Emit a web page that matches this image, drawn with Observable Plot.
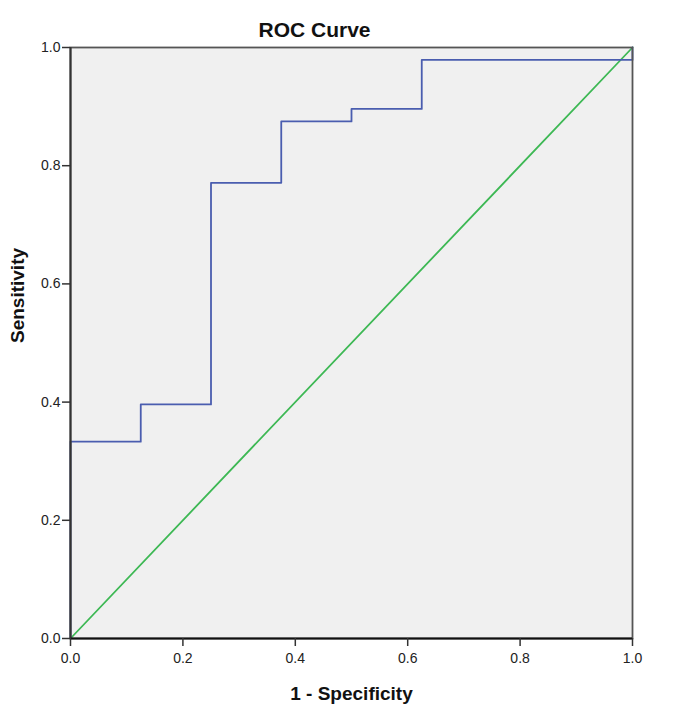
<!DOCTYPE html>
<html>
<head>
<meta charset="utf-8">
<script src="https://cdn.jsdelivr.net/npm/d3@7"></script>
<script src="https://cdn.jsdelivr.net/npm/@observablehq/plot@0.6"></script>
<style>
  body { margin: 0; background: #fff; }
  svg { font-family: "Liberation Sans", Arial, sans-serif; }
  g[aria-label="x-axis tick label"], g[aria-label="y-axis tick label"],
  g[aria-label="x-axis tick label"] text, g[aria-label="y-axis tick label"] text {
    font-size: 14px !important;
  }
</style>
</head>
<body>
<div id="chart"></div>
<script>
// ROC curve points (1 - specificity, sensitivity)
const fpr = [0, 0, 0.125, 0.25, 0.375, 0.5, 0.625, 1];
const tpr = [0, 0.333, 0.396, 0.771, 0.875, 0.896, 0.979, 1];
// Reference (chance) line
const refX = [0, 1];
const refY = [0, 1];
const ticks = [0, 0.2, 0.4, 0.6, 0.8, 1.0];
const titleText = "ROC Curve";
const xLabel = "1 - Specificity";
const yLabel = "Sensitivity";

const roc = fpr.map((x, i) => ({x, y: tpr[i]}));
const ref = refX.map((x, i) => ({x, y: refY[i]}));
const fmt = d3.format(".1f");

const chart = Plot.plot({
  width: 681,
  height: 723,
  marginLeft: 70,
  marginRight: 49,
  marginTop: 47,
  marginBottom: 85,
  style: {fontFamily: "Liberation Sans, Arial, sans-serif", fontSize: "14px", background: "#fff"},
  x: {domain: [0, 1]},
  y: {domain: [0, 1]},
  marks: [
    Plot.frame({fill: "#f0f0f0", stroke: null}),
    Plot.line(ref, {x: "x", y: "y", stroke: "#3db854", strokeWidth: 1.8}),
    Plot.line(roc, {x: "x", y: "y", curve: "step-after", stroke: "#4a5daf", strokeWidth: 1.8}),
    Plot.frame({stroke: "#555", strokeWidth: 1.8}),
    Plot.ruleY([0], {stroke: "#111", strokeWidth: 1.8}),
    Plot.ruleX([0], {stroke: "#333", strokeWidth: 2}),
    Plot.axisX(ticks, {tickSize: 8, tickPadding: 7, tickFormat: fmt, fontSize: 14, stroke: "#333", strokeWidth: 1.5, fill: "#222", label: null}),
    Plot.axisY(ticks, {tickSize: 8, tickPadding: 2, tickFormat: fmt, fontSize: 14, stroke: "#333", strokeWidth: 1.5, fill: "#222", label: null}),
    Plot.text([titleText], {frameAnchor: "top", dx: -37, dy: -17, text: d => d, fontSize: 21, fontWeight: "bold", fill: "#111", lineAnchor: "middle"}),
    Plot.text([xLabel], {frameAnchor: "bottom", dy: 55, text: d => d, fontSize: 19, fontWeight: "bold", fill: "#111", lineAnchor: "middle"}),
    Plot.text([yLabel], {frameAnchor: "left", dx: -53, rotate: -90, text: d => d, fontSize: 19, fontWeight: "bold", fill: "#111", lineAnchor: "middle"})
  ]
});
document.getElementById("chart").appendChild(chart);
</script>
</body>
</html>
